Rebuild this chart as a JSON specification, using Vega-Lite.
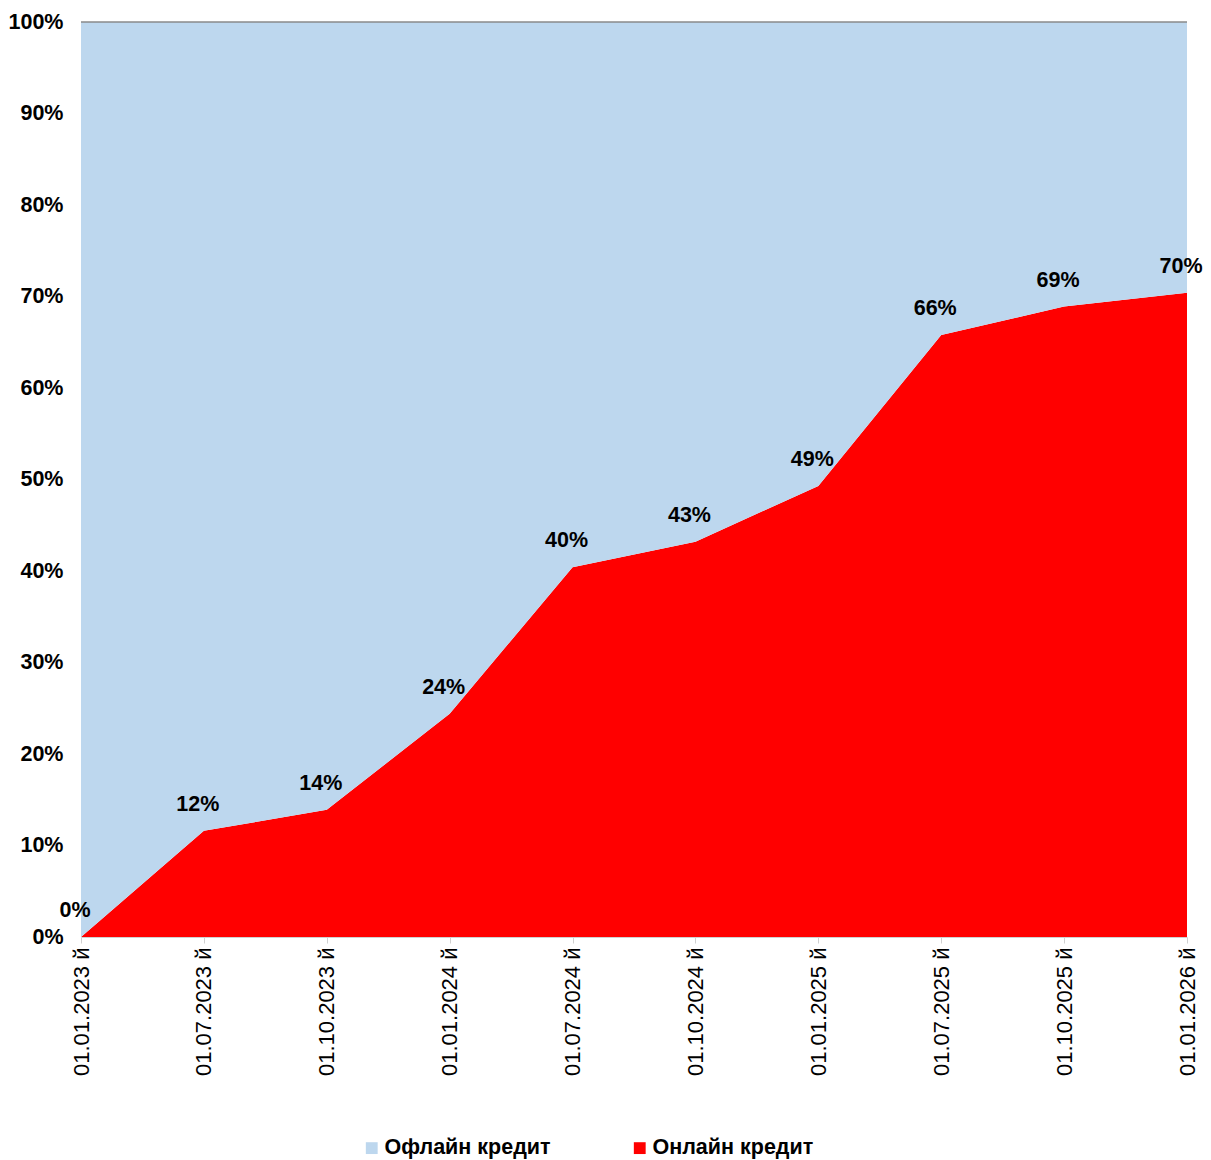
{
  "$schema": "https://vega.github.io/schema/vega-lite/v6.json",
  "autosize": {"type": "none"},
  "width": 1106,
  "height": 915,
  "padding": {"left": 81, "top": 22, "right": 24, "bottom": 223},
  "background": "white",
  "config": {"font": "Liberation Sans", "view": {"stroke": null}},
  "data": {"values": [
    {"date": "01.01.2023 й", "series": "Онлайн кредит", "value": 0, "rank": 1},
    {"date": "01.07.2023 й", "series": "Онлайн кредит", "value": 0.116, "rank": 1},
    {"date": "01.10.2023 й", "series": "Онлайн кредит", "value": 0.139, "rank": 1},
    {"date": "01.01.2024 й", "series": "Онлайн кредит", "value": 0.244, "rank": 1},
    {"date": "01.07.2024 й", "series": "Онлайн кредит", "value": 0.404, "rank": 1},
    {"date": "01.10.2024 й", "series": "Онлайн кредит", "value": 0.432, "rank": 1},
    {"date": "01.01.2025 й", "series": "Онлайн кредит", "value": 0.493, "rank": 1},
    {"date": "01.07.2025 й", "series": "Онлайн кредит", "value": 0.658, "rank": 1},
    {"date": "01.10.2025 й", "series": "Онлайн кредит", "value": 0.689, "rank": 1},
    {"date": "01.01.2026 й", "series": "Онлайн кредит", "value": 0.704, "rank": 1},
    {"date": "01.01.2023 й", "series": "Офлайн кредит", "value": 1, "rank": 2},
    {"date": "01.07.2023 й", "series": "Офлайн кредит", "value": 0.884, "rank": 2},
    {"date": "01.10.2023 й", "series": "Офлайн кредит", "value": 0.861, "rank": 2},
    {"date": "01.01.2024 й", "series": "Офлайн кредит", "value": 0.756, "rank": 2},
    {"date": "01.07.2024 й", "series": "Офлайн кредит", "value": 0.596, "rank": 2},
    {"date": "01.10.2024 й", "series": "Офлайн кредит", "value": 0.568, "rank": 2},
    {"date": "01.01.2025 й", "series": "Офлайн кредит", "value": 0.507, "rank": 2},
    {"date": "01.07.2025 й", "series": "Офлайн кредит", "value": 0.342, "rank": 2},
    {"date": "01.10.2025 й", "series": "Офлайн кредит", "value": 0.311, "rank": 2},
    {"date": "01.01.2026 й", "series": "Офлайн кредит", "value": 0.296, "rank": 2}
  ]},
  "layer": [
    {
      "mark": {"type": "area", "interpolate": "linear"},
      "encoding": {
        "x": {
          "field": "date", "type": "ordinal", "sort": null,
          "scale": {"type": "point", "padding": 0},
          "axis": {
            "title": null, "labelAngle": -90, "labelFontSize": 22, "labelColor": "#000",
            "tickColor": "#d0d0d0", "domainColor": "#d0d0d0", "tickSize": 6, "labelPadding": 4,
            "grid": false
          }
        },
        "y": {
          "field": "value", "type": "quantitative", "stack": "zero",
          "scale": {"domain": [0, 1], "nice": false},
          "axis": {
            "title": null, "format": ".0%", "values": [0, 0.1, 0.2, 0.3, 0.4, 0.5, 0.6, 0.7, 0.8, 0.9, 1],
            "grid": false, "domain": false, "ticks": false, "labelPadding": 18,
            "labelFontSize": 21.5, "labelFontWeight": "bold", "labelColor": "#000"
          }
        },
        "color": {
          "field": "series", "type": "nominal",
          "scale": {"domain": ["Офлайн кредит", "Онлайн кредит"], "range": ["#BDD7EE", "#FF0000"]},
          "legend": {
            "title": null, "orient": "none", "direction": "horizontal",
            "legendX": 280, "legendY": 1115,
            "symbolType": "square", "symbolSize": 140, "symbolStrokeWidth": 0,
            "labelFontSize": 21.5, "labelFontWeight": "bold", "labelColor": "#000",
            "labelLimit": 500, "columnPadding": 78, "labelOffset": 2
          }
        },
        "order": {"field": "rank", "type": "quantitative"}
      }
    },
    {
      "data": {"values": [{"v": 1}]},
      "mark": {"type": "rule", "color": "#8a8a8a", "strokeWidth": 1.5},
      "encoding": {"y": {"field": "v", "type": "quantitative"}}
    },
    {
      "transform": [{"filter": "datum.series === 'Онлайн кредит'"}],
      "mark": {"type": "text", "fontSize": 21.5, "fontWeight": "bold", "color": "#000", "dy": -26, "dx": -6},
      "encoding": {
        "x": {"field": "date", "type": "ordinal", "sort": null},
        "y": {"field": "value", "type": "quantitative"},
        "text": {"field": "value", "type": "quantitative", "format": ".0%"}
      }
    }
  ]
}
